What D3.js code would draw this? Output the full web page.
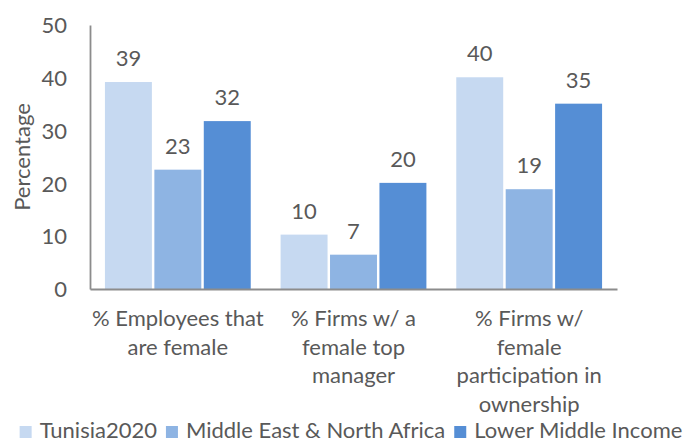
<!DOCTYPE html>
<html>
<head>
  <meta charset="UTF-8">
  <title>Female participation</title>
  <script src="https://d3js.org/d3.v7.min.js"></script>
  <style>
    body {
      margin: 0;
      font-family: Lato, sans-serif;
      background: #fff;
    }
    .axis text {
      fill: #595959;
      font-size: 22px;
      font-family: Lato, sans-serif;
    }
    .axis path {
      stroke: #8c8c8c;
      stroke-width: 1.8;
    }
    .label {
      fill: #595959;
      font-size: 22px;
    }
  </style>
</head>
<body>
  <div id="chart"></div>
  <script>
    // categories, each split into the lines shown under the axis
    const categories = ["emp", "mgr", "own"];
    const categoryLines = [
      ["% Employees that", "are female"],
      ["% Firms w/ a", "female top", "manager"],
      ["% Firms w/", "female", "participation in", "ownership"]
    ];
    const seriesNames = ["Tunisia2020", "Middle East & North Africa", "Lower Middle Income"];
    const tunisia = [39.2, 10.3, 40.1];
    const mena = [22.6, 6.5, 18.9];
    const lowerMiddle = [31.8, 20.1, 35.1];
    const yTicks = [0, 10, 20, 30, 40, 50];

    const colors = ["#c6d9f1", "#8eb4e3", "#558ed5"];
    const seriesValues = [tunisia, mena, lowerMiddle];

    const width = 686, height = 442;
    const plot = { left: 90, right: 617, top: 25, bottom: 289 };

    const svg = d3.select("#chart")
      .append("svg")
      .attr("width", width)
      .attr("height", height);

    const x = d3.scaleBand()
      .domain(categories)
      .range([plot.left, plot.right])
      .paddingInner(0.17)
      .paddingOuter(0.085);

    const xSeries = d3.scaleBand()
      .domain(seriesNames)
      .range([0, x.bandwidth()])
      .paddingInner(0.05);

    const y = d3.scaleLinear()
      .domain([0, 50])
      .range([plot.bottom, plot.top]);

    // y axis
    const yAxis = svg.append("g")
      .attr("class", "axis")
      .attr("transform", `translate(${plot.left},0)`)
      .call(d3.axisLeft(y).tickValues(yTicks).tickSize(0).tickPadding(23).tickSizeOuter(0));
    yAxis.selectAll("text").attr("dy", "0.35em");

    // bars
    const rows = [];
    categories.forEach((c, i) => {
      seriesNames.forEach((s, j) => {
        rows.push({ cat: c, series: s, idx: j, value: seriesValues[j][i] });
      });
    });

    svg.selectAll(".bar")
      .data(rows)
      .enter()
      .append("rect")
      .attr("class", "bar")
      .attr("x", d => x(d.cat) + xSeries(d.series))
      .attr("y", d => y(d.value))
      .attr("width", xSeries.bandwidth())
      .attr("height", d => y(0) - y(d.value))
      .attr("fill", d => colors[d.idx]);

    svg.selectAll(".label")
      .data(rows)
      .enter()
      .append("text")
      .attr("class", "label")
      .attr("x", d => x(d.cat) + xSeries(d.series) + xSeries.bandwidth() / 2)
      .attr("y", d => y(d.value) - 16)
      .attr("text-anchor", "middle")
      .text(d => Math.round(d.value));

    // x axis
    const xAxis = svg.append("g")
      .attr("class", "axis")
      .attr("transform", `translate(0,${plot.bottom})`)
      .call(d3.axisBottom(x).tickSize(0).tickSizeOuter(0).tickFormat(""));

    xAxis.selectAll(".tick").each(function(d, i) {
      const t = d3.select(this).select("text")
        .attr("y", 0)
        .attr("dy", null);
      categoryLines[i].forEach((line, k) => {
        t.append("tspan")
          .attr("x", 0)
          .attr("y", 37 + k * 28.5)
          .text(line);
      });
    });

    // y title
    svg.append("text")
      .attr("class", "label")
      .attr("transform", `translate(30,${(plot.top + plot.bottom) / 2}) rotate(-90)`)
      .attr("text-anchor", "middle")
      .text("Percentage");

    // legend
    const legend = svg.append("g");
    const items = legend.selectAll("g")
      .data(seriesNames)
      .enter()
      .append("g");
    items.append("rect")
      .attr("width", 12)
      .attr("height", 12)
      .attr("y", -12)
      .attr("fill", (d, i) => colors[i]);
    items.append("text")
      .attr("class", "label")
      .attr("x", 20)
      .attr("y", 0)
      .text(d => d);

    let cx = 0;
    items.each(function() {
      const w = d3.select(this).select("text").node().getComputedTextLength();
      d3.select(this).attr("transform", `translate(${cx},0)`);
      cx += 20 + w + 9;
    });
    const total = cx - 9;
    legend.attr("transform", `translate(${351 - total / 2},438)`);
  </script>
</body>
</html>
